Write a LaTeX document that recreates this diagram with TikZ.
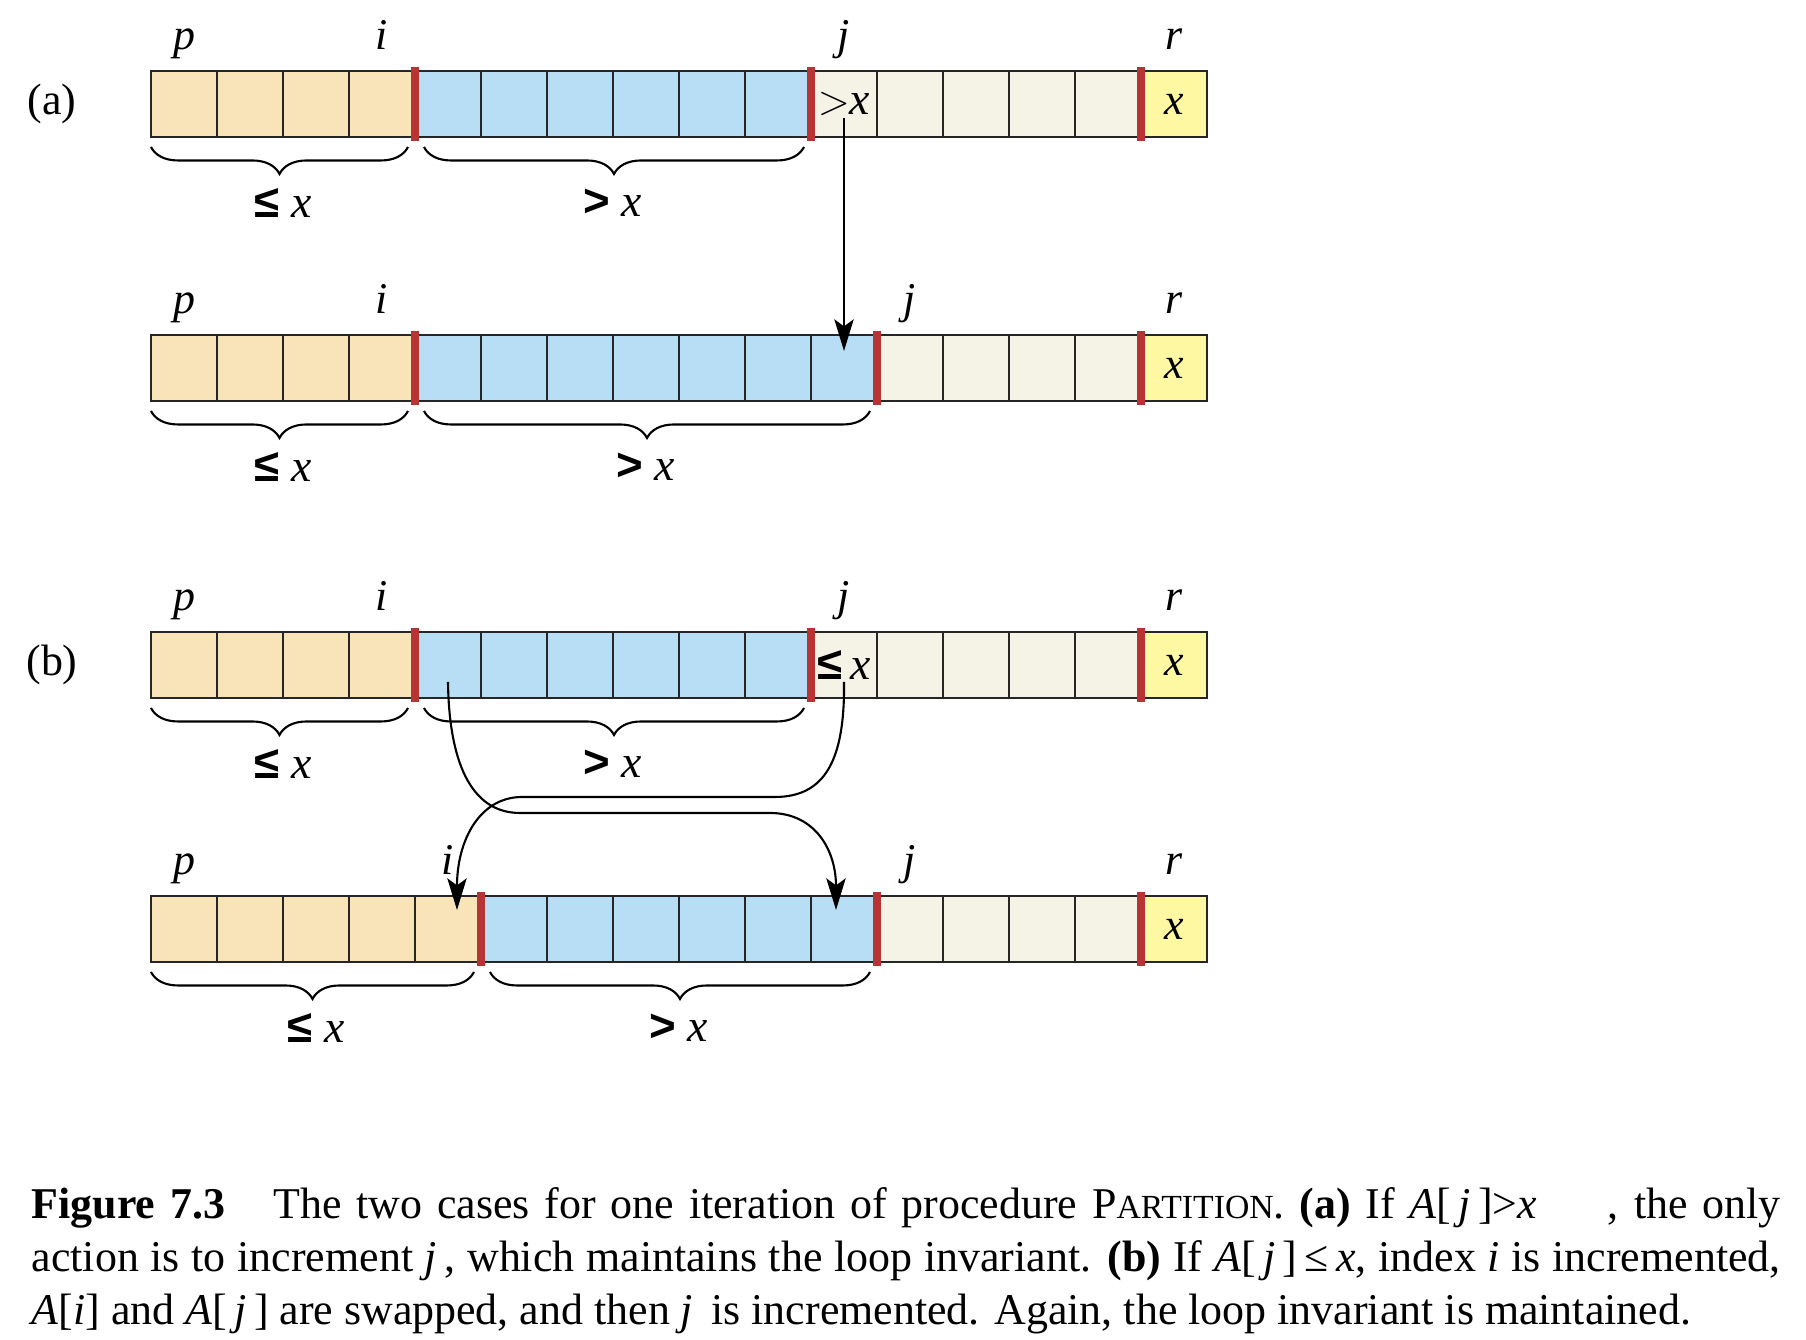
\documentclass[tikz,border=0pt]{standalone}
\usepackage{fontspec}
\setmainfont{Liberation Serif}
\newfontfamily\symsans{Liberation Sans}
\usetikzlibrary{arrows.meta, positioning, calc, decorations.pathreplacing}
\definecolor{lowc}{RGB}{249, 228, 185}
\definecolor{highc}{RGB}{183, 222, 244}
\definecolor{restc}{RGB}{245, 243, 230}
\definecolor{pivc}{RGB}{255, 248, 163}
\definecolor{barred}{RGB}{184, 52, 52}
\newcommand{\lblfont}{\fontsize{12.5}{14}\selectfont}
\tikzset{
  cell/.style={rectangle, draw=black!85, line width=0.6pt, minimum size=0.66cm,
               inner sep=0pt, outer sep=0pt, font=\lblfont\itshape},
  bar/.style={draw=barred, line width=2pt, shorten <=-0.04cm, shorten >=-0.04cm},
  ptr/.style={anchor=base, yshift=0.21cm, inner sep=0pt, font=\lblfont\itshape},
  brc/.style={decorate, decoration={brace, mirror, amplitude=0.27cm}, line width=0.6pt},
  brlbl/.style={inner sep=0pt, font=\fontsize{13}{14}\selectfont},
  tag/.style={inner sep=0pt, font=\fontsize{12.5}{14}\selectfont},
  arr/.style={-{Stealth[length=9pt, width=5.5pt, inset=2pt]}, line width=0.6pt},
  caption/.style={anchor=north west, inner sep=0pt, text width=17.49cm, align=justify,
                  font=\fontsize{12.5}{15.1}\selectfont},
}
\newcommand{\leqx}{{\symsans\bfseries ≤}\ \textit{x}}
\newcommand{\gtx}{{\symsans\bfseries >}\ \textit{x}}

\begin{document}
\begin{tikzpicture}
\useasboundingbox (0,0) rectangle (18.06,13.40);

% the four arrays: name / bottom / last low cell / j
\foreach \rw/\yb/\ii/\jj in {a1/12.03/3/10, a2/9.39/3/11, b1/6.42/3/10, b2/3.78/4/11}{
  \pgfmathtruncatemacro{\ib}{\ii+1}
  \pgfmathtruncatemacro{\jb}{\jj-1}
  \foreach \c in {0,...,\ii}
    \node[cell, fill=lowc] (\rw-\c) at ({1.84+0.66*\c},{\yb+0.33}) {};
  \foreach \c in {\ib,...,\jb}
    \node[cell, fill=highc] (\rw-\c) at ({1.84+0.66*\c},{\yb+0.33}) {};
  \foreach \c in {\jj,...,14}
    \node[cell, fill=restc] (\rw-\c) at ({1.84+0.66*\c},{\yb+0.33}) {};
  \node[cell, fill=pivc] (\rw-15) at ({1.84+0.66*15},{\yb+0.33}) {x};
  % boundaries
  \draw[bar] (\rw-\ii.north east) -- (\rw-\ii.south east);
  \draw[bar] (\rw-\jb.north east) -- (\rw-\jb.south east);
  \draw[bar] (\rw-14.north east) -- (\rw-14.south east);
  % indices
  \node[ptr] (\rw-p) at (\rw-0.north) {p};
  \node[ptr] (\rw-i) at (\rw-\ii.north) {i};
  \node[ptr] (\rw-j) at (\rw-\jj.north) {j};
  \node[ptr] (\rw-r) at (\rw-15.north) {r};
  % braces
  \draw[brc] ($(\rw-0.south west)+(0,-0.10)$) -- ($(\rw-\ii.south east)+(-0.07,-0.10)$);
  \draw[brc] ($(\rw-\ib.south west)+(0.09,-0.10)$) -- ($(\rw-\jb.south east)+(-0.07,-0.10)$);
  \node[brlbl] (\rw-le) at ($(\rw-0.south west)!0.5!(\rw-\ii.south east)+(0,-0.66)$) {\leqx};
  \node[brlbl] (\rw-gt) at ($(\rw-\ib.south west)!0.5!(\rw-\jb.south east)+(0,-0.66)$) {\gtx};
}

\node[tag] (taga) at (0.52,12.36) {(a)};
\node[tag] (tagb) at (0.52,6.75) {(b)};

\node[brlbl] (a1-val) at (a1-10) {$>$\textit{x}};
\node[brlbl] (b1-val) at (b1-10) {{\symsans\bfseries ≤}\,\textit{x}};

% case (a)
\coordinate (mv-src) at ($(a1-10.center)+(0,-0.14)$);
\coordinate (mv-dst) at ($(a2-10.north)+(0,-0.16)$);
\draw[arr] (mv-src) -- (mv-dst);

% case (b): swap
\coordinate (swi-src) at ($(b1-4.center)+(0,-0.17)$);
\coordinate (swi-dst) at ($(b2-10.north)+(-0.08,-0.14)$);
\coordinate (swj-src) at ($(b1-10.center)+(0,-0.17)$);
\coordinate (swj-dst) at ($(b2-4.north)+(0.09,-0.14)$);
\draw[arr] (swi-src) .. controls (4.49,5.80) and (4.70,5.27) .. (5.20,5.27)
  -- (7.70,5.27) .. controls (8.15,5.27) and (8.36,4.90) .. (swi-dst);
\draw[arr] (swj-src) .. controls (8.45,5.80) and (8.25,5.43) .. (7.75,5.43)
  -- (5.22,5.43) .. controls (4.80,5.43) and (4.57,5.00) .. (swj-dst);

\node[caption] (cap) at (0.31,1.53)
  {\textbf{Figure 7.3}\hspace{1.1em}The two cases for one iteration of procedure
   P{\fontsize{9.6}{10}\selectfont ARTITION}. \textbf{(a)} If \textit{A}[\,\textit{j}\,]>\textit{x}\hspace{1.6em}, the only\linebreak
   action is to increment \textit{j}\,, which maintains the loop invariant. \textbf{(b)} If
   \textit{A}[\,\textit{j}\,]\,≤\,\textit{x}, index \textit{i} is incremented,\linebreak
   \textit{A}[\textit{i}] and \textit{A}[\,\textit{j}\,] are swapped, and then \textit{j}\, is
   incremented. Again, the loop invariant is maintained.};
\end{tikzpicture}
\end{document}
